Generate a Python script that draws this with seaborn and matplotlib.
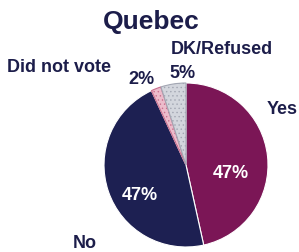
import seaborn as sns
import matplotlib.pyplot as plt

sns.set_theme(style="white")
plt.rcParams['font.family'] = ['Liberation Sans', 'DejaVu Sans']

# data
labels = ["Yes", "No", "Did not vote", "DK/Refused"]
shares = [47, 47, 2, 5]
colors = ["#7b1656", "#1d2052", "#ecbccb", "#d3d6dd"]
hatches = ["", "", "....", "...."]

TEXT = "#1c1d4a"
W, H = 299, 252


def main():
    fig = plt.figure(figsize=(W / 100, H / 100), dpi=100)
    ax = fig.add_axes([0, 0, 1, 1])

    plt.rcParams['hatch.linewidth'] = 0.5
    wedges, _ = ax.pie(shares, colors=colors, startangle=90, counterclock=False,
                       center=(186, H - 165), radius=82,
                       wedgeprops=dict(edgecolor="white", linewidth=0.8))
    for w, h, c in zip(wedges, hatches, ["white", "white", "#c9708f", "#a3a7b3"]):
        if h:
            w.set_hatch(h)
            w.set_edgecolor(c)
    # pie resets the limits, so set them afterwards
    ax.set_xlim(0, W)
    ax.set_ylim(0, H)
    ax.set_aspect("equal")
    ax.axis("off")

    def put(x, y, s, size, color=TEXT, ha="center"):
        ax.text(x, H - y, s, fontsize=size, fontweight="bold", color=color,
                ha=ha, va="center")

    put(151, 22, "Quebec", 19)
    put(222, 50, "DK/Refused", 13)
    put(59, 67, "Did not vote", 13)
    put(141, 80, "2%", 13)
    put(182, 73, "5%", 13)
    put(282, 110, "Yes", 13)
    put(231, 174, "47%", 13, color="white")
    put(140, 195, "47%", 13, color="white")
    put(85, 243, "No", 13)

    fig.savefig("out.png", dpi=100)


if __name__ == "__main__":
    main()
